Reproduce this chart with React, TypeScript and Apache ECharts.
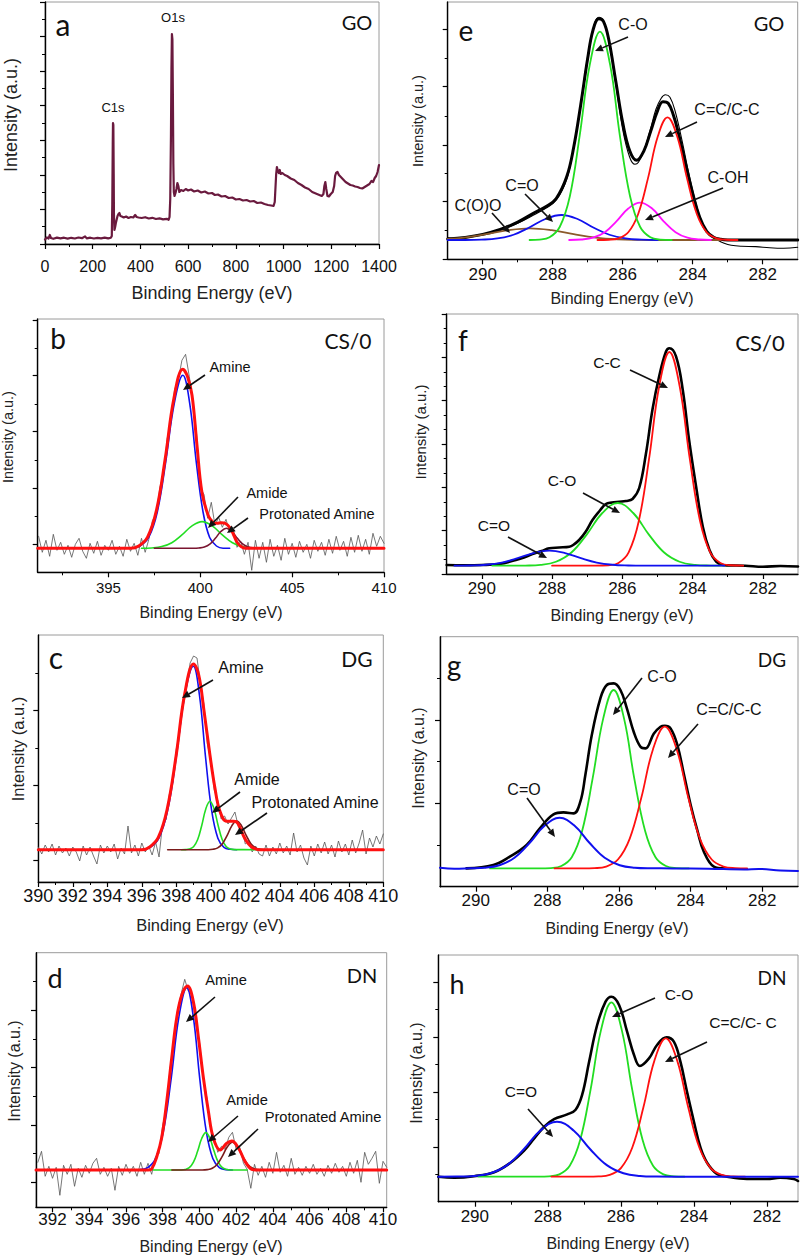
import React, { useEffect, useRef } from "react";
import * as echarts from "echarts";

type Pt = [number, number];

// ================= DATA (intensities in arbitrary units) =================
// (a) survey spectrum of GO
const surveyGO: Pt[] = [
  [0,4.5],[8,6.5],[15,5.5],[20,9],[25,6],[35,5.2],[50,6.4],[65,5.6],[80,6.3],[95,5.4],[110,6.2],[125,5.5],[140,6.5],[155,5.8],[168,7.6],[175,5.6],[190,6.3],[205,5.5],[220,6.1],[235,5.7],[250,6.4],[265,5.6],[276,6.2],[280,8],[282,40],[284,100],[285,121],[286.5,119],[288,70],[289,30],[291,14],[294,17],[297,21],[300,24],[304,28],[308,30],[312,31],[316,28],[322,27.5],[330,26.5],[340,27.5],[350,26],[360,27],[370,26.5],[378,29],[384,27],[392,26.5],[405,26],[420,26.8],[435,25.5],[450,26.2],[465,25],[480,25.6],[495,24.6],[510,25.2],[518,24.2],[522,27],[525,45],[528,110],[530,175],[532,210],[534,205],[536,150],[538,80],[540,52],[543,48],[547,51],[551,55],[555,61],[559,58],[563,52],[570,54],[580,53],[590,55],[600,53.5],[612,54.5],[625,52.5],[640,53.5],[655,51.5],[670,52.5],[685,50.5],[700,51],[712,49],[725,49.5],[740,47.5],[755,48],[770,46],[785,46.5],[800,44.5],[815,45],[830,43.5],[845,44],[860,42.5],[875,43],[890,41],[905,41.5],[920,40],[935,39],[948,38.5],[958,38],[963,42],[966,56],[969,70],[972,77],[976,73],[980,71],[984,74],[988,70],[995,71],[1005,69],[1015,68],[1030,65.5],[1045,64],[1060,61],[1075,59],[1090,56.5],[1105,55],[1120,52],[1135,50.5],[1150,49],[1160,48],[1167,50],[1171,58],[1175,62],[1179,55],[1184,48],[1190,47.5],[1198,50],[1206,52],[1212,58],[1216,68],[1220,71],[1226,72],[1232,69],[1240,67],[1250,64.5],[1260,62],[1270,60.5],[1280,59],[1290,58.5],[1300,57.5],[1310,57],[1320,56],[1330,55.5],[1340,57],[1350,58.5],[1360,60],[1368,63],[1375,62],[1382,66],[1388,68],[1394,72],[1400,79]
];

// (b) N1s CS/0
const bRaw: Pt[] = [
  [391.2,36],[391.4,20],[391.6,32],[391.8,16],[392.0,38],[392.2,22],[392.4,30],[392.6,18],[392.8,27],[393.0,15],[393.2,28],[393.4,34],[393.6,21],[393.8,14],[394.0,29],[394.2,19],[394.4,31],[394.6,17],[394.8,27],[395.0,22],[395.2,32],[395.4,18],[395.6,26],[395.8,16],[396.0,33],[396.2,21],[396.4,29],[396.6,17],[396.8,34],[397.0,20],
  [397.2,33],[397.4,52],[397.6,57],[397.8,85],[398.0,98],[398.2,134],[398.4,150],[398.6,183],[398.8,192],[399.0,212],[399.2,218],[399.4,196],[399.6,172],[399.8,138],[400.0,84],[400.2,78],[400.4,54],[400.6,70],[400.8,47],[401.0,55],[401.2,45],[401.4,53],[401.6,40],[401.8,43],[402.0,25],[402.2,31],[402.4,18],[402.6,30],
  [402.8,2],[403.0,32],[403.2,14],[403.4,30],[403.6,10],[403.8,33],[404.0,16],[404.2,27],[404.4,12],[404.6,34],[404.8,18],[405.0,29],[405.2,15],[405.4,31],[405.6,20],[405.8,28],[406.0,14],[406.2,32],[406.4,21],[406.6,30],[406.8,17],[407.0,33],[407.2,19],[407.4,36],[407.6,22],[407.8,31],[408.0,16],[408.2,35],[408.4,20],[408.6,37],[408.8,21],[409.0,33],[409.2,18],[409.4,39],[409.6,26],[409.8,36],[410.0,29]
];
const bEnvelope: Pt[] = [[391.15,24],[396.2,24],[396.65,26.3],[397.13,35.2],[397.61,61.6],[398.09,113.5],[398.57,174.5],[399.05,203],[399.3,196],[399.55,177],[399.82,127],[400.09,80],[400.45,56],[400.7,50],[400.91,49],[401.15,49.5],[401.36,49],[401.64,44],[401.85,36],[402.0,30],[402.2,26],[402.45,24],[410,24]];
const bAmine: Pt[] = [[396.26,24],[396.72,26.3],[397.19,34.8],[397.66,60.3],[398.12,110.5],[398.59,169.5],[399.05,197],[399.42,169.5],[399.78,110.5],[400.15,60.3],[400.51,34.8],[400.88,26.3],[401.24,24],[401.6,24]];
const bAmide: Pt[] = [[396.8,24],[397.35,24.35],[397.9,25.7],[398.45,29.6],[399.0,37.4],[399.55,46.5],[400.1,50.7],[400.65,46.5],[401.2,37.4],[401.75,29.6],[402.3,25.7],[402.85,24.35],[403.4,24]];
const bProtonated: Pt[] = [[397.5,24],[399.62,24],[399.92,24.3],[400.22,25.3],[400.52,28.2],[400.82,34],[401.12,40.8],[401.42,44],[401.72,40.8],[402.02,34],[402.32,28.2],[402.62,25.3],[402.92,24.3],[403.22,24]];

// (c) N1s DG
const cRaw: Pt[] = [
  [390.0,35],[390.2,28],[390.4,37],[390.6,30],[390.8,38],[391.0,27],[391.2,36],[391.4,29],[391.6,34],[391.8,26],[392.0,35],[392.2,30],[392.4,21],[392.6,36],[392.8,27],[393.0,35],[393.2,26],[393.4,18],[393.6,37],[393.8,29],[394.0,36],[394.2,30],[394.4,38],[394.6,23],[394.8,34],[395.0,28],[395.2,56],[395.4,29],[395.6,37],[395.8,26],[396.0,39],[396.2,30],[396.4,36],[396.6,27],[396.8,40],[397.0,25],
  [397.2,58],[397.4,62],[397.6,88],[397.8,100],[398.0,133],[398.2,150],[398.4,183],[398.6,196],[398.8,219],[399.0,226],[399.2,224],[399.4,198],[399.6,178],[399.8,138],[400.0,122],[400.2,92],[400.4,82],[400.6,63],[400.8,66],[401.0,58],[401.2,64],[401.4,70],[401.6,55],[401.8,53],[402.0,38],[402.2,41],[402.4,30],[402.6,36],[402.8,28],[403.0,26],
  [403.2,37],[403.4,26],[403.6,35],[403.8,28],[404.0,39],[404.2,29],[404.4,36],[404.6,27],[404.8,49],[405.0,30],[405.2,37],[405.4,24],[405.6,17],[405.8,36],[406.0,26],[406.2,38],[406.4,29],[406.6,40],[406.8,28],[407.0,37],[407.2,25],[407.4,41],[407.6,30],[407.8,38],[408.0,27],[408.2,42],[408.4,29],[408.6,39],[408.8,52],[409.0,28],[409.2,44],[409.4,35],[409.6,46],[409.8,38],[410.0,48]
];
const cEnvelope: Pt[] = [[390,32.3],[396.0,32.3],[396.44,34.8],[396.95,44.3],[397.46,72],[397.98,125.2],[398.49,188.4],[399.0,218],[399.3,207],[399.6,172],[399.95,127],[400.24,94],[400.53,70.7],[400.92,60.7],[401.3,60.7],[401.5,60],[401.7,54],[401.9,46],[402.08,40.7],[402.3,36],[402.46,34],[402.85,32.3],[410,32.3]];
const cAmine: Pt[] = [[396.0,32.5],[396.49,34.7],[396.99,43.8],[397.49,70.8],[397.99,124],[398.49,186.5],[398.99,215.7],[399.345,186.5],[399.7,124],[400.055,70.8],[400.41,43.8],[400.765,34.7],[401.12,32.7],[401.5,32.3]];
const cAmide: Pt[] = [[398.3,32.3],[398.525,32.4],[398.76,32.93],[399.0,35.3],[399.24,42.46],[399.475,56.5],[399.71,73],[399.95,80.7],[400.19,73],[400.425,56.5],[400.66,42.46],[400.9,35.3],[401.14,32.93],[401.375,32.4],[402.9,32.3]];
const cProtonated: Pt[] = [[397.5,32.3],[399.85,32.3],[400.125,32.68],[400.4,34.1],[400.675,38.33],[400.95,46.65],[401.225,56.4],[401.5,61],[401.775,56.4],[402.05,46.65],[402.325,38.33],[402.6,34.1],[402.875,32.68],[403.15,32.3]];

// (d) N1s DN
const dRaw: Pt[] = [
  [391.2,45],[391.4,56],[391.6,31],[391.8,41],[392.0,29],[392.2,40],[392.4,12],[392.6,42],[392.8,33],[393.0,43],[393.2,21],[393.4,39],[393.6,30],[393.8,42],[394.0,34],[394.2,44],[394.4,49],[394.6,33],[394.8,40],[395.0,31],[395.2,39],[395.4,17],[395.6,41],[395.8,32],[396.0,43],[396.2,34],[396.4,41],[396.6,31],[396.8,45],[397.0,33],
  [397.2,44],[397.4,33],[397.6,50],[397.8,54],[398.0,82],[398.2,99],[398.4,139],[398.6,160],[398.8,196],[399.0,213],[399.2,228],[399.4,216],[399.6,213],[399.8,183],[400.0,166],[400.2,131],[400.4,110],[400.6,80],[400.8,70],[401.0,55],[401.2,61],[401.4,58],[401.6,70],[401.8,75],[402.0,58],[402.2,60],[402.4,44],[402.6,38],
  [402.8,19],[403.0,43],[403.2,32],[403.4,41],[403.6,30],[403.8,45],[404.0,34],[404.2,55],[404.4,35],[404.6,42],[404.8,31],[405.0,49],[405.2,33],[405.4,40],[405.6,32],[405.8,41],[406.0,34],[406.2,43],[406.4,33],[406.6,39],[406.8,31],[407.0,42],[407.2,34],[407.4,44],[407.6,35],[407.8,41],[408.0,31],[408.2,45],[408.4,34],[408.6,47],[408.8,25],[409.0,55],[409.2,43],[409.4,49],[409.6,56],[409.8,24],[410.0,46],[410.2,40]
];
const dEnvelope: Pt[] = [[391.1,37.3],[397.2,37.3],[397.4,38.5],[397.67,50],[397.95,70],[398.22,105.7],[398.49,149],[398.76,189],[399.04,212.3],[399.35,221.3],[399.67,205.7],[399.95,169],[400.22,129],[400.49,95.7],[400.76,69],[401.13,57.3],[401.49,64],[401.76,66.3],[402.13,59],[402.49,45.7],[402.85,38],[403.1,37.3],[410.2,37.3]];
const dAmine: Pt[] = [[396.76,37.7],[397.185,39.7],[397.61,48.7],[398.035,75.6],[398.46,128.5],[398.885,190.7],[399.31,219.7],[399.665,190.7],[400.02,128.5],[400.375,75.6],[400.73,48.7],[401.085,39.7],[401.44,37.7],[401.8,37.3]];
const dAmide: Pt[] = [[397.5,37.3],[399.0,37.37],[399.225,37.79],[399.45,39.64],[399.675,45.15],[399.9,56],[400.125,68.75],[400.35,74.7],[400.575,68.75],[400.8,56],[401.025,45.15],[401.25,39.64],[401.475,37.79],[401.7,37.37],[402.6,37.3]];
const dProtonated: Pt[] = [[398.5,37.3],[400.15,37.3],[400.425,37.66],[400.7,39.03],[400.975,43.1],[401.25,51.15],[401.525,60.6],[401.8,65],[402.075,60.6],[402.35,51.15],[402.625,43.1],[402.9,39.03],[403.175,37.66],[403.45,37.3]];

// (e) C1s GO
const eRaw: Pt[] = [[281.0,12],[281.4,11],[281.8,11.5],[282.2,12.7],[282.6,13],[282.9,14],[283.1,16],[283.3,19.5],[283.5,24],[283.7,34],[283.9,55],[284.1,84],[284.3,118],[284.5,148],[284.65,162],[284.78,164.5],[284.9,161],[285.05,150],[285.2,131],[285.4,108],[285.55,97],[285.65,95],[285.8,102],[286.0,130],[286.2,176],[286.4,219],[286.55,238],[286.68,242],[286.8,236],[287.0,203],[287.2,155],[287.4,112],[287.6,80],[287.9,59],[288.2,51],[288.5,45],[289.0,36],[289.5,29.5],[290.0,24.5],[290.5,22],[290.8,21],[291.0,21.5]];
const eEnvelope: Pt[] = [[281.0,19.3],[283.0,19.4],[283.2,20],[283.4,22],[283.6,28],[283.8,42],[284.0,66],[284.2,95],[284.4,125],[284.55,144],[284.7,156],[284.85,157.5],[285.0,149],[285.2,128],[285.4,108],[285.6,99],[285.8,108.6],[286.0,136.7],[286.2,178.5],[286.4,220],[286.55,238],[286.68,240.5],[286.85,229],[287.0,201],[287.2,154.4],[287.4,112],[287.6,82.5],[287.9,60.8],[288.2,52.5],[288.5,47],[289.0,37.2],[289.5,29.8],[290.0,24.9],[290.5,21.9],[291.0,20.3]];
const eCO: Pt[] = [[284.6,19.3],[284.93,19.7],[285.21,22],[285.5,32.3],[285.79,63.1],[286.08,123.5],[286.36,194.6],[286.65,227.7],[286.94,194.6],[287.23,123.5],[287.51,63.1],[287.8,32.3],[288.09,22],[288.375,19.7],[288.66,19.3]];
const eCC: Pt[] = [[282.72,19.3],[283.04,19.55],[283.32,20.9],[283.6,27],[283.88,45.1],[284.16,80.65],[284.44,122.5],[284.72,142],[285.0,122.5],[285.28,80.65],[285.56,45.1],[285.84,27],[286.12,20.9],[286.4,19.55],[286.72,19.3]];
const eCOH: Pt[] = [[283.48,19.3],[283.81,19.8],[284.15,21.6],[284.49,27.15],[284.83,38],[285.16,50.8],[285.5,56.7],[285.84,50.8],[286.18,38],[286.51,27.15],[286.85,21.6],[287.19,19.8],[287.53,19.3]];
const eCdO: Pt[] = [[285.0,19.3],[285.46,19.63],[285.92,20.86],[286.38,24.55],[286.84,31.8],[287.29,40.3],[287.75,44.3],[288.21,40.3],[288.67,31.8],[289.12,24.55],[289.58,20.86],[290.04,19.63],[290.5,19.3],[291.0,19.3]];
const eCOO: Pt[] = [[283.2,19.3],[284.9,19.3],[285.525,19.45],[286.15,20.03],[286.775,21.76],[287.4,25.15],[288.025,29.1],[288.65,31],[289.275,29.1],[289.9,25.15],[290.525,21.76],[291.0,20.3]];

// (f) C1s CS/0
const fEnvelope: Pt[] = [[281.0,7.5],[281.5,8],[282.0,7.2],[282.5,8.3],[283.0,8.6],[283.14,9],[283.33,12.3],[283.52,24],[283.71,47.3],[283.9,87.3],[284.1,134],[284.28,184],[284.47,217.3],[284.66,225.7],[284.76,222.3],[284.95,198],[285.14,165],[285.33,120],[285.52,86],[285.71,75],[285.9,73],[286.09,72.3],[286.3,71.5],[286.47,70],[286.65,63],[286.85,54],[287.05,42],[287.23,34],[287.4,29],[287.51,27.3],[287.8,26.5],[288.08,25.7],[288.3,23],[288.56,20],[288.8,16.5],[289.03,14],[289.5,10],[290.0,9],[290.5,8.8],[291.0,9]];
const fCC: Pt[] = [[282.56,8.3],[282.92,8.73],[283.21,11.1],[283.5,21.66],[283.79,53.2],[284.08,115.15],[284.37,188],[284.66,222],[284.95,188],[285.24,115.15],[285.53,53.2],[285.82,21.66],[286.11,11.1],[286.4,8.73],[286.76,8.3],[288.0,8.3]];
const fCO: Pt[] = [[283.13,8.3],[283.49,8.43],[283.93,9.12],[284.37,12.22],[284.81,21.47],[285.25,39.65],[285.69,61],[286.13,71],[286.57,61],[287.01,39.65],[287.45,21.47],[287.89,12.22],[288.33,9.12],[288.77,8.43],[289.13,8.3],[289.7,8.3]];
const fCdO: Pt[] = [[283.1,8.3],[285.38,8.3],[285.83,8.5],[286.28,9.24],[286.73,11.45],[287.18,15.8],[287.63,20.9],[288.08,23.3],[288.53,20.9],[288.98,15.8],[289.43,11.45],[289.88,9.24],[290.33,8.5],[290.78,8.3]];

// (g) C1s DG
const gEnvelope: Pt[] = [[283.07,18.3],[283.35,20],[283.63,35],[283.81,56],[284.0,82],[284.19,113],[284.37,141.7],[284.56,158.3],[284.72,161],[284.84,160],[285.03,153],[285.26,138.3],[285.4,140],[285.59,155],[285.78,178.3],[285.96,196.7],[286.15,203.3],[286.34,201.7],[286.52,188.3],[286.76,151.7],[286.94,111.7],[287.08,85],[287.27,73.3],[287.55,74.3],[287.83,72.3],[288.21,58.3],[288.58,41.7],[289.05,30],[289.51,21.7],[290.26,18.3]];
const gCO: Pt[] = [[284.05,18.3],[284.4,18.66],[284.69,20.64],[284.98,29.45],[285.27,55.8],[285.57,107.5],[285.86,168.3],[286.15,196.7],[286.44,168.3],[286.74,107.5],[287.03,55.8],[287.32,29.45],[287.61,20.64],[287.9,18.66],[288.25,18.3],[289.6,18.3]];
const gCC: Pt[] = [[282.42,18.3],[282.755,18.58],[283.08,20.16],[283.41,27.16],[283.74,48.1],[284.065,89.15],[284.39,137.5],[284.72,160],[285.05,137.5],[285.375,89.15],[285.7,48.1],[286.03,27.16],[286.36,20.16],[286.685,18.58],[287.02,18.3],[287.8,18.3]];
const gCdO: Pt[] = [[281.0,15.7],[281.5,16.3],[282.1,17.8],[282.5,17.3],[283.5,18],[284.5,18.3],[285.14,18.4],[285.56,18.96],[285.98,21.47],[286.4,28.95],[286.82,43.65],[287.24,60.9],[287.66,69],[288.08,60.9],[288.5,43.65],[288.92,28.95],[289.34,21.47],[289.76,18.96],[290.18,18.4],[290.6,18],[291.0,19]];

// (h) C1s DN
const hEnvelope: Pt[] = [[281.15,20.7],[281.27,22.7],[281.64,24],[282.0,22.7],[282.55,22.7],[283.09,25],[283.37,27.8],[283.64,39],[283.82,54],[284.0,80],[284.19,110],[284.37,140],[284.55,160],[284.75,164.3],[285.01,156.7],[285.23,143.3],[285.48,135.7],[285.64,146.7],[285.83,170],[286.05,196.7],[286.26,205],[286.42,200],[286.65,176.7],[286.87,140],[287.06,107],[287.24,92],[287.47,87.3],[287.83,82.5],[288.1,75],[288.38,63],[288.65,51],[289.02,39],[289.47,29.5],[290.02,25.5],[290.56,24],[291.0,25]];
const hCO: Pt[] = [[284.26,25],[284.55,25.35],[284.835,27.28],[285.12,35.9],[285.405,61.6],[285.69,112.15],[285.975,171.6],[286.26,199.3],[286.545,171.6],[286.83,112.15],[287.115,61.6],[287.4,35.9],[287.685,27.28],[287.97,25.35],[288.26,25],[289.9,25]];
const hCC: Pt[] = [[282.6,25],[282.925,25.28],[283.23,26.81],[283.54,33.64],[283.85,54],[284.155,94.15],[284.46,141.3],[284.77,163.3],[285.08,141.3],[285.385,94.15],[285.69,54],[286.0,33.64],[286.3075,26.81],[286.615,25.28],[286.92,25],[287.9,25]];
const hCdO: Pt[] = [[281.15,25],[282.0,25],[284.5,25],[285.02,25.11],[285.475,25.72],[285.93,28.44],[286.385,36.55],[286.84,52.5],[287.295,71.25],[287.75,80],[288.205,71.25],[288.66,52.5],[289.115,36.55],[289.57,28.44],[290.025,25.72],[290.48,25.11],[291.0,25]];

// ---- tick values ----
const xLabelsSurvey = [0, 200, 400, 600, 800, 1000, 1200, 1400];
const xMinorSurvey = [100, 300, 500, 700, 900, 1100, 1300];
const xLabelsC1s = [282, 284, 286, 288, 290];
const xMinorC1s = [283, 285, 287, 289];
const xLabelsB = [395, 400, 405, 410];
const xMinorB = [392.5, 397.5, 402.5, 407.5];
const xLabelsC = [390, 392, 394, 396, 398, 400, 402, 404, 406, 408, 410];
const xMinorC = [391, 393, 395, 397, 399, 401, 403, 405, 407, 409];
const xLabelsD = [392, 394, 396, 398, 400, 402, 404, 406, 408, 410];
const xMinorD = [393, 395, 397, 399, 401, 403, 405, 407, 409];

const yMajorA = [0, 34.6, 69.1, 103.7, 138.3, 172.9, 207.4, 242];
const yMinorA = [17.3, 51.9, 86.4, 121, 155.6, 190.1, 224.7];
const yMajorE = [0, 57.7, 114.3, 172.7, 230];
const yMinorE = [28.7, 86, 143.5, 201.3];
const yMajorB = [28, 84, 140.7, 196.7, 252];
const yMinorB = [55.7, 112.3, 168.3, 224];
const yMajorF = [0, 43.3, 86.7, 130, 173.3, 216.7, 260];
const yMinorF = [14.4, 28.9, 57.8, 72.2, 101.1, 115.6, 144.4, 158.9, 187.8, 202.2, 231.1, 245.6];
const yMajorC = [21.3, 96.3, 171.3];
const yMinorC = [58.7, 133.7, 208.7];
const yMajorG = [83.3, 166.7];
const yMinorG = [41.7, 125, 208.3];
const yMajorD = [25, 82.3, 139.7, 197.3];
const yMinorD = [53.7, 110.7, 168.5, 225.7];
const yMajorH = [54.3, 109.3, 164.3, 219.3];
const yMinorH = [27.3, 82, 137, 192];

// ================= STYLE =================
const ARIAL = "'Liberation Sans', Arial, Helvetica, sans-serif";
const NARROW = "'Liberation Sans Narrow', 'Arial Narrow', 'Liberation Sans', Arial, sans-serif";
const CAL = "Lato, 'Open Sans', 'Liberation Sans', sans-serif";
const RED = "#ff1010";
const BLUE = "#1010ee";
const GREEN = "#22dd22";
const MAGENTA = "#ff10ff";
const BROWN = "#8b5a2b";
const DARKRED = "#7a1530";
const BLACK = "#000000";
const MAROON = "#6a1a3e";

interface LineDef { data: Pt[]; color: string; width: number; smooth: boolean }
interface PanelDef {
  left: number; top: number; width: number; height: number;
  xMin: number; xMax: number; inverse: boolean;
  xLabels: number[]; xMinor: number[]; yMajor: number[]; yMinor: number[];
  labelSize: number; labelMargin: number; labelFamily: string;
  lines: LineDef[];
}

const L = (data: Pt[], color: string, width: number, smooth = true): LineDef => ({ data, color, width, smooth });

const panels: PanelDef[] = [
  { left: 45, top: 2, width: 334, height: 242, xMin: 0, xMax: 1400, inverse: false,
    xLabels: xLabelsSurvey, xMinor: xMinorSurvey, yMajor: yMajorA, yMinor: yMinorA,
    labelSize: 16, labelMargin: 14, labelFamily: ARIAL,
    lines: [L(surveyGO, MAROON, 2.2, false)] },
  { left: 447.7, top: 2, width: 350, height: 257.3, xMin: 281, xMax: 291, inverse: true,
    xLabels: xLabelsC1s, xMinor: xMinorC1s, yMajor: yMajorE, yMinor: yMinorE,
    labelSize: 17, labelMargin: 7, labelFamily: ARIAL,
    lines: [L(eRaw, BLACK, 1.1), L(eEnvelope, BLACK, 3), L(eCOO, BROWN, 1.8), L(eCdO, BLUE, 1.8), L(eCOH, MAGENTA, 1.8), L(eCC, RED, 1.8), L(eCO, GREEN, 1.8)] },
  { left: 37.7, top: 319, width: 346.3, height: 253.3, xMin: 391.15, xMax: 410, inverse: false,
    xLabels: xLabelsB, xMinor: xMinorB, yMajor: yMajorB, yMinor: yMinorB,
    labelSize: 15, labelMargin: 8, labelFamily: NARROW,
    lines: [L(bRaw, "#555555", 0.8, false), L(bAmine, BLUE, 1.6), L(bAmide, GREEN, 1.6), L(bProtonated, DARKRED, 1.6), L(bEnvelope, RED, 3)] },
  { left: 446.7, top: 314, width: 351.3, height: 260, xMin: 281, xMax: 291, inverse: true,
    xLabels: xLabelsC1s, xMinor: xMinorC1s, yMajor: yMajorF, yMinor: yMinorF,
    labelSize: 17, labelMargin: 6, labelFamily: ARIAL,
    lines: [L(fEnvelope, BLACK, 2.6), L(fCO, GREEN, 1.8), L(fCC, RED, 1.8), L(fCdO, BLUE, 1.8)] },
  { left: 38.3, top: 635, width: 345, height: 247, xMin: 390, xMax: 410, inverse: false,
    xLabels: xLabelsC, xMinor: xMinorC, yMajor: yMajorC, yMinor: yMinorC,
    labelSize: 18, labelMargin: 5, labelFamily: NARROW,
    lines: [L(cRaw, "#555555", 0.8, false), L(cAmine, BLUE, 1.6), L(cAmide, GREEN, 1.6), L(cProtonated, "#7a1a1a", 1.6), L(cEnvelope, RED, 3)] },
  { left: 440, top: 636.7, width: 358, height: 250, xMin: 281, xMax: 291, inverse: true,
    xLabels: xLabelsC1s, xMinor: xMinorC1s, yMajor: yMajorG, yMinor: yMinorG,
    labelSize: 17, labelMargin: 5, labelFamily: ARIAL,
    lines: [L(gEnvelope, BLACK, 2.6), L(gCO, GREEN, 1.8), L(gCC, RED, 1.8), L(gCdO, BLUE, 2)] },
  { left: 36, top: 952.7, width: 350.7, height: 254.6, xMin: 391.1, xMax: 410.2, inverse: false,
    xLabels: xLabelsD, xMinor: xMinorD, yMajor: yMajorD, yMinor: yMinorD,
    labelSize: 17, labelMargin: 4, labelFamily: NARROW,
    lines: [L(dRaw, "#555555", 0.8, false), L(dAmine, BLUE, 1.6), L(dAmide, GREEN, 1.6), L(dProtonated, "#7a1a1a", 1.6), L(dEnvelope, RED, 3)] },
  { left: 438.3, top: 955, width: 359.7, height: 246.7, xMin: 281.15, xMax: 291, inverse: true,
    xLabels: xLabelsC1s, xMinor: xMinorC1s, yMajor: yMajorH, yMinor: yMinorH,
    labelSize: 17, labelMargin: 6, labelFamily: ARIAL,
    lines: [L(hEnvelope, BLACK, 2.6), L(hCO, GREEN, 1.8), L(hCC, RED, 1.8), L(hCdO, BLUE, 2)] },
];

// ================= ANNOTATIONS =================
type TextDef = [string, number, number, number, string];
const annTexts: TextDef[] = [
  ["a", 63, 24, 30, CAL], ["GO", 357, 22, 20, CAL], ["O1s", 173, 17, 13, ARIAL], ["C1s", 113, 107, 13, ARIAL],
  ["e", 466, 30, 28, CAL], ["GO", 769, 23, 20, CAL], ["C-O", 633, 24, 16, ARIAL], ["C=C/C-C", 727, 109, 16, ARIAL],
  ["C-OH", 728, 177, 16, ARIAL], ["C=O", 522, 185, 16, ARIAL], ["C(O)O", 478, 205, 16, ARIAL],
  ["b", 58, 338, 28, CAL], ["CS/0", 348, 340, 21, CAL], ["Amine", 230, 367, 14.5, ARIAL], ["Amide", 267, 493, 14.5, ARIAL], ["Protonated Amine", 317, 514, 14.5, ARIAL],
  ["f", 463, 340, 28, CAL], ["CS/0", 760, 342, 22, CAL], ["C-C", 607, 362, 15.5, ARIAL], ["C-O", 562, 480, 15.5, ARIAL], ["C=O", 494, 525, 15.5, ARIAL],
  ["c", 56, 657, 30, CAL], ["DG", 357, 658, 21, CAL], ["Amine", 241, 667, 16, ARIAL], ["Amide", 257, 779, 16, ARIAL], ["Protonated Amine", 315, 802, 16, ARIAL],
  ["g", 454, 665, 28, CAL], ["DG", 772, 659, 19, CAL], ["C-O", 662, 676, 16, ARIAL], ["C=C/C-C", 729, 709, 16, ARIAL], ["C=O", 524, 789, 16, ARIAL],
  ["d", 55, 977, 27, CAL], ["DN", 362, 975, 20, CAL], ["Amine", 226, 980, 14.7, ARIAL], ["Amide", 247, 1100, 14.7, ARIAL], ["Protonated Amine", 323, 1117, 14.7, ARIAL],
  ["h", 457, 983, 27, CAL], ["DN", 772, 977, 19, CAL], ["C-O", 679, 994, 15.5, ARIAL], ["C=C/C- C", 743, 1022, 15.5, ARIAL], ["C=O", 521, 1091, 15.5, ARIAL],
];
const annArrows: [number, number, number, number][] = [
  [628, 37, 595, 51], [697, 122, 665, 137], [723, 188, 645, 220], [525, 194, 553, 222], [492, 213, 510, 233],
  [205, 375, 183, 390], [238, 497, 208, 528], [248, 518, 227, 533],
  [630, 370, 668, 388], [583, 493, 620, 513], [508, 537, 547, 558],
  [213, 680, 182, 698], [240, 792, 212, 813], [267, 813, 235, 835],
  [642, 678, 613, 715], [698, 724, 668, 758], [527, 798, 555, 837],
  [215, 997, 186, 1022], [238, 1116, 208, 1142], [258, 1129, 228, 1157],
  [655, 998, 612, 1017], [707, 1042, 665, 1062], [528, 1109, 553, 1137],
];
const xTitles: [number, number, number][] = [
  [212, 293, 18], [622, 298, 16], [211, 612, 16], [622, 615, 16], [210, 925, 16.5], [617, 928, 16], [211, 1246, 16], [618, 1243, 16],
];
const yTitles: [number, number, number][] = [
  [11, 115, 18], [418, 121, 14.5], [8, 437, 14.5], [420, 432, 15], [18, 749, 16.5], [418, 758, 16], [14, 1071, 16], [416, 1073, 16],
];

function arrowEls(x1: number, y1: number, x2: number, y2: number) {
  const dx = x2 - x1, dy = y2 - y1;
  const len = Math.hypot(dx, dy);
  const ux = dx / len, uy = dy / len;
  const hl = 8, hw = 3.6;
  const bx = x2 - ux * hl, by = y2 - uy * hl;
  return [
    { type: "line", silent: true, shape: { x1, y1, x2: bx, y2: by }, style: { stroke: "#111", lineWidth: 1.6 } },
    { type: "polygon", silent: true, shape: { points: [[x2, y2], [bx - uy * hw, by + ux * hw], [bx + uy * hw, by - ux * hw]] }, style: { fill: "#111" } },
  ];
}

function buildOption() {
  const grid: any[] = [], xAxis: any[] = [], yAxis: any[] = [], series: any[] = [];
  panels.forEach((p, i) => {
    grid.push({ left: p.left, top: p.top, width: p.width, height: p.height, show: true, borderColor: "#9a9a9a", borderWidth: 1, backgroundColor: "transparent", containLabel: false });
    const baseX = { type: "value", gridIndex: i, min: p.xMin, max: p.xMax, inverse: p.inverse, position: "bottom", splitLine: { show: false }, minorTick: { show: false } };
    xAxis.push({ ...baseX,
      axisLine: { show: true, onZero: false, lineStyle: { color: "#000", width: 1.4 } },
      axisTick: { show: true, length: 5, customValues: p.xLabels, lineStyle: { color: "#000", width: 1.2 } },
      axisLabel: { show: true, customValues: p.xLabels, showMinLabel: true, showMaxLabel: true, formatter: (v: number) => String(v), fontSize: p.labelSize, fontFamily: p.labelFamily, color: "#111", margin: p.labelMargin } });
    xAxis.push({ ...baseX,
      axisLine: { show: false, onZero: false },
      axisTick: { show: true, length: 3, customValues: p.xMinor, lineStyle: { color: "#000", width: 1 } },
      axisLabel: { show: false } });
    const baseY = { type: "value", gridIndex: i, min: 0, max: p.height, position: "left", splitLine: { show: false }, minorTick: { show: false } };
    yAxis.push({ ...baseY,
      axisLine: { show: true, onZero: false, lineStyle: { color: "#000", width: 1.4 } },
      axisTick: { show: true, length: 5, customValues: p.yMajor, lineStyle: { color: "#000", width: 1.2 } },
      axisLabel: { show: false } });
    yAxis.push({ ...baseY,
      axisLine: { show: false, onZero: false },
      axisTick: { show: true, length: 3, customValues: p.yMinor, lineStyle: { color: "#000", width: 1 } },
      axisLabel: { show: false } });
    p.lines.forEach((ln) => {
      series.push({ type: "line", xAxisIndex: 2 * i, yAxisIndex: 2 * i, data: ln.data, symbol: "none", showSymbol: false,
        smooth: ln.smooth ? 0.4 : false, silent: true, clip: true,
        lineStyle: { color: ln.color, width: ln.width, cap: "round", join: "round" } });
    });
  });

  const graphic: any[] = [];
  annTexts.forEach(([t, x, y, s, f]) => graphic.push({ type: "text", x, y, silent: true, z: 100,
    style: { text: t, fontSize: s, fontFamily: f, fill: "#111", align: "center", verticalAlign: "middle" } }));
  annArrows.forEach(([a, b, c, d]) => arrowEls(a, b, c, d).forEach((el) => graphic.push({ ...el, z: 100 })));
  xTitles.forEach(([x, y, s]) => graphic.push({ type: "text", x, y, silent: true,
    style: { text: "Binding Energy (eV)", fontSize: s, fontFamily: ARIAL, fill: "#222", align: "center", verticalAlign: "middle" } }));
  yTitles.forEach(([x, y, s]) => graphic.push({ type: "text", x, y, rotation: Math.PI / 2, silent: true,
    style: { text: "Intensity (a.u.)", fontSize: s, fontFamily: ARIAL, fill: "#222", align: "center", verticalAlign: "middle" } }));

  return { animation: false, backgroundColor: "#ffffff", grid, xAxis, yAxis, series, graphic };
}

export default function App() {
  const ref = useRef<HTMLDivElement>(null);
  useEffect(() => {
    if (!ref.current) return;
    const chart = echarts.init(ref.current, undefined, { renderer: "svg" });
    chart.setOption(buildOption() as any);
    return () => chart.dispose();
  }, []);
  return <div ref={ref} style={{ position: "absolute", left: 0, top: 0, width: 800, height: 1256, background: "#fff" }} />;
}
